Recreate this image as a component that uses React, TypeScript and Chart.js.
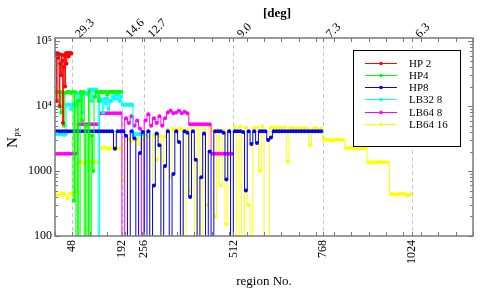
import React, { useEffect, useRef } from 'react';
import { Chart, registerables } from 'chart.js';

Chart.register(...registerables);

// ---------- axis data ----------
const regionTicks = [48, 192, 256, 512, 768, 1024];
const degLabels = ['29.3', '14.6', '12.7', '9.0', '7.3', '6.3'];
const yTickValues = [100, 1000, 10000, 100000];
const yTickLabels = ['100', '1000', '10⁴', '10⁵'];
const xMin = 0;
const xMax = 1200;
const yMin = 100;
const yMax = 112000;
const xMinorStep = 50;

// ---------- series ----------
const seriesNames = ['HP 2', 'HP4', 'HP8', 'LB32 8', 'LB64 8', 'LB64 16'];
const seriesColors = ['#ff0000', '#00ff00', '#0000ff', '#00ffff', '#ff00ff', '#ffff00'];

// HP 2: regions sampled every 2 starting at 1
const hp2Start = 1;
const hp2Step = 2;
const hp2Values = [
  60000, 66000, 12000, 65000, 55000, 64000, 10000, 45000, 30000, 62000, 50000, 5500,
  40000, 60000, 20000, 65000, 45000, 66000, 65000, 58000, 65000, 66000, 64000, 65000,
];

// HP4: every 4 starting at 2
const hp4Start = 2;
const hp4Step = 4;
const hp4Values = [
  16500, 16500, 16500, 16500, 8000, 16500, 5000, 16000, 16500, 16500, 16500, 16000,
  16500, 350, 16500, 10, 12000, 10, 16500, 6000, 16500, 10, 5000, 10,
  16500, 10, 3500, 1000, 14000, 16500, 16500, 12000, 16500, 16500, 16500, 16500,
  16500, 15000, 16500, 16500, 16500, 16500, 16500, 16500, 16500, 16500, 16500, 16500,
];

// HP8: every 8 starting at 4
const hp8Start = 4;
const hp8Step = 8;
const hp8Values = [
  4100, 4100, 4100, 4100, 4100, 4100, 4100, 4100, 4100, 4100, 4100, 4100,
  4100, 4100, 4100, 4100, 4100, 4100, 4100, 4100, 4100, 2200, 4100, 4100,
  4100, 3500, 10, 4100, 3200, 10, 1900, 4000, 10, 4100, 10, 600,
  3800, 2500, 10, 1200, 4100, 10, 900, 4100, 2800, 10, 4100, 3900,
  400, 4100, 1500, 10, 800, 3800, 10, 2000, 10, 4100, 4100, 4100,
  3900, 740, 4100, 10, 4100, 4100, 4100, 4000, 500, 4100, 2600, 4100,
  2700, 4100, 4100, 4100, 3000, 3300, 4100, 4100, 4100, 4100, 4100, 4100,
  4100, 4100, 4100, 4100, 4100, 4100, 4100, 4100, 4100, 4100, 4100, 4100,
];

// LB32 8: every 4 starting at 2
const lb32Start = 2;
const lb32Step = 4;
const lb32Values = [
  3700, 3700, 3700, 3700, 3700, 3700, 3600, 3700,
  10500, 10500, 10500, 9000, 10500, 10500, 10000, 10500,
  15700, 12000, 15700, 8000, 15700, 16000, 15700, 15000,
  18000, 18000, 12000, 18000, 17500, 18000, 14000, 10,
  13000, 12000, 8000, 13000, 11000, 13000, 9000, 12000,
  12000, 14000, 13000, 15000, 13000, 15000, 12000, 14000,
  10500, 10500, 10500, 10500, 10500, 10500, 10500, 10500,
  3700, 3700, 3700, 3700, 3700, 3700, 3700, 3700,
];

// LB64 8: every 8 starting at 4
const lb64aStart = 4;
const lb64aStep = 8;
const lb64aValues = [
  1850, 1850, 1850, 1850, 1850, 1850, 1850, 1850,
  5250, 5250, 5250, 5250, 5250, 5250, 5250, 5250,
  7800, 7800, 7800, 7800, 7800, 7800, 7800, 7800,
  10, 6500, 5500, 7000, 5000, 6000, 4500, 10,
  6000, 7500, 5000, 6500, 5500, 7000, 5000, 6500,
  8000, 8500, 7800, 8000, 8500, 7800, 8200, 7800,
  5250, 5250, 5250, 5250, 5250, 5250, 5250, 5250,
  1850, 1850, 1850, 1850, 1850, 1850, 1850, 1850,
];

// LB64 16: every 8 starting at 4
const lb64bStart = 4;
const lb64bStep = 8;
const lb64bValues = [
  440, 420, 460, 440, 380, 450, 440, 470,
  1370, 1370, 1300, 1370, 1400, 1370, 1350, 1370,
  2250, 2300, 2250, 2200, 2250, 2300, 2250, 2250,
  700, 3000, 3100, 2900, 3000, 3100, 2600, 3000,
  3500, 3400, 10, 3600, 1500, 3500, 10, 3400,
  4400, 800, 4400, 4300, 4500, 4400, 10, 4400,
  500, 5200, 10, 5300, 10, 5200, 300, 5000,
  4200, 200, 4300, 600, 4200, 150, 4200, 10,
  4700, 10, 4800, 10, 4700, 300, 10, 4700,
  4700, 1000, 4800, 10, 10, 4700, 4600, 4700,
  4600, 4600, 4700, 1400, 4600, 4600, 4500, 4600,
  4500, 4600, 4500, 2500, 4500, 4600, 4400, 4500,
  3000, 3050, 3000, 2950, 3000, 3050, 3000, 3000,
  2250, 2250, 2300, 2250, 2200, 2250, 2250, 2250,
  1370, 1370, 1350, 1370, 1400, 1370, 1370, 1350,
  440, 440, 430, 440, 450, 440, 420, 440,
];

const seriesStarts = [hp2Start, hp4Start, hp8Start, lb32Start, lb64aStart, lb64bStart];
const seriesSteps = [hp2Step, hp4Step, hp8Step, lb32Step, lb64aStep, lb64bStep];
const seriesValues = [hp2Values, hp4Values, hp8Values, lb32Values, lb64aValues, lb64bValues];

const FONT = "'Liberation Serif', 'Times New Roman', Times, serif";

const decorPlugin = {
  id: 'decor',
  beforeDatasetsDraw(chart: any) {
    const { ctx, chartArea: a, scales } = chart;
    const xs = scales.x;
    ctx.save();
    ctx.strokeStyle = '#c8c8c8';
    ctx.lineWidth = 1;
    ctx.setLineDash([4, 3]);
    for (const v of regionTicks) {
      const px = Math.round(xs.getPixelForValue(v)) + 0.5;
      ctx.beginPath();
      ctx.moveTo(px, a.top);
      ctx.lineTo(px, a.bottom);
      ctx.stroke();
    }
    ctx.restore();
  },
  afterDraw(chart: any) {
    const { ctx, chartArea: a, scales } = chart;
    const xs = scales.x;
    const ys = scales.y;
    ctx.save();
    ctx.setLineDash([]);
    ctx.strokeStyle = '#7a7a7a';
    ctx.lineWidth = 1;
    // x ticks (inward, top and bottom)
    const xtv: number[] = [];
    for (let v = xMin; v <= xMax; v += xMinorStep) xtv.push(v);
    for (const v of regionTicks) xtv.push(v);
    for (const v of xtv) {
      const px = Math.round(xs.getPixelForValue(v)) + 0.5;
      ctx.beginPath();
      ctx.moveTo(px, a.bottom);
      ctx.lineTo(px, a.bottom - 4);
      ctx.moveTo(px, a.top);
      ctx.lineTo(px, a.top + 4);
      ctx.stroke();
    }
    // y ticks (inward, left and right)
    for (let d = 100; d <= 100000; d *= 10) {
      for (let m = 1; m <= 9; m++) {
        const v = d * m;
        if (v < yMin || v > yMax) continue;
        const py = Math.round(ys.getPixelForValue(v)) + 0.5;
        const len = m === 1 ? 5 : 3;
        ctx.beginPath();
        ctx.moveTo(a.left, py);
        ctx.lineTo(a.left + len, py);
        ctx.moveTo(a.right, py);
        ctx.lineTo(a.right - len, py);
        ctx.stroke();
      }
    }
    // frame
    ctx.lineWidth = 1.5;
    ctx.strokeRect(a.left, a.top, a.right - a.left, a.bottom - a.top);

    // y title N_px
    ctx.fillStyle = '#000';
    ctx.save();
    ctx.translate(17, 148);
    ctx.rotate(-Math.PI / 2);
    ctx.font = `15px ${FONT}`;
    ctx.textBaseline = 'alphabetic';
    ctx.textAlign = 'left';
    ctx.fillText('N', 0, 0);
    const nw = ctx.measureText('N').width;
    ctx.font = `9px ${FONT}`;
    ctx.fillText('px', nw + 0.5, 2);
    ctx.restore();

    // top title
    ctx.font = `bold 13px ${FONT}`;
    ctx.textAlign = 'center';
    ctx.textBaseline = 'middle';
    ctx.fillText('[deg]', 277, 14);

    // legend
    const lx = 353.5, ly = 50.5, lw = 107, lh = 96;
    ctx.fillStyle = '#fff';
    ctx.fillRect(lx, ly, lw, lh);
    ctx.strokeStyle = '#000';
    ctx.lineWidth = 1;
    ctx.strokeRect(lx, ly, lw, lh);
    ctx.font = `11px ${FONT}`;
    ctx.textAlign = 'left';
    ctx.textBaseline = 'middle';
    chart.data.datasets.forEach((ds: any, i: number) => {
      const y = Math.round(62.5 + i * 12.3) + 0.5;
      ctx.strokeStyle = ds.borderColor;
      ctx.lineWidth = 1;
      ctx.beginPath();
      ctx.moveTo(365, y);
      ctx.lineTo(397, y);
      ctx.stroke();
      ctx.fillStyle = ds.borderColor;
      ctx.beginPath();
      ctx.arc(381, y, 1.8, 0, Math.PI * 2);
      ctx.fill();
      ctx.fillStyle = '#000';
      ctx.fillText(ds.label, 409, y + 0.5);
    });
    ctx.restore();
  },
};

export default function App() {
  const ref = useRef<HTMLCanvasElement>(null);
  useEffect(() => {
    const datasets = seriesNames.map((name, k) => ({
      label: name,
      data: seriesValues[k].map((v, i) => ({ x: seriesStarts[k] + i * seriesSteps[k], y: v })),
      borderColor: seriesColors[k],
      backgroundColor: seriesColors[k],
      pointBackgroundColor: seriesColors[k],
      pointBorderWidth: 0,
      pointRadius: 2,
      borderWidth: 1,
      stepped: 'middle',
      clip: 0,
      xAxisID: 'x',
      yAxisID: 'y',
    }));
    const tickFont = { family: FONT, size: 12 };
    const chart = new Chart(ref.current as HTMLCanvasElement, {
      type: 'line',
      data: { datasets },
      options: {
        animation: false,
        responsive: false,
        devicePixelRatio: 1,
        layout: { padding: { left: 0, right: 8, top: 0, bottom: 0 } },
        plugins: { legend: { display: false }, tooltip: { enabled: false } },
        scales: {
          x: {
            type: 'linear',
            position: 'bottom',
            min: xMin,
            max: xMax,
            afterFit: (s: any) => { s.height = 61; },
            afterBuildTicks: (s: any) => { s.ticks = regionTicks.map((v) => ({ value: v })); },
            ticks: {
              autoSkip: false,
              minRotation: 90,
              maxRotation: 90,
              padding: 4,
              color: '#000',
              font: tickFont,
              callback: (v: any) => String(v),
            },
            grid: { display: false, drawTicks: false },
            border: { display: false },
            title: {
              display: true,
              text: 'region No.',
              color: '#000',
              font: { family: FONT, size: 13 },
              padding: { top: 0, bottom: 8 },
            },
          },
          x2: {
            type: 'linear',
            position: 'top',
            min: xMin,
            max: xMax,
            afterFit: (s: any) => { s.height = 38; },
            afterBuildTicks: (s: any) => { s.ticks = regionTicks.map((v) => ({ value: v })); },
            ticks: {
              autoSkip: false,
              minRotation: 45,
              maxRotation: 45,
              padding: -3,
              labelOffset: 16,
              color: '#000',
              font: tickFont,
              callback: (v: any) => degLabels[regionTicks.indexOf(v)] ?? '',
            },
            grid: { display: false, drawTicks: false },
            border: { display: false },
          },
          y: {
            type: 'logarithmic',
            position: 'left',
            min: yMin,
            max: yMax,
            afterFit: (s: any) => { s.width = 55; },
            afterBuildTicks: (s: any) => { s.ticks = yTickValues.map((v) => ({ value: v })); },
            ticks: {
              autoSkip: false,
              padding: 3,
              color: '#000',
              font: tickFont,
              callback: (v: any) => yTickLabels[yTickValues.indexOf(v)] ?? '',
            },
            grid: { display: false, drawTicks: false },
            border: { display: false },
          },
        },
      },
      plugins: [decorPlugin],
    } as any);
    return () => chart.destroy();
  }, []);
  return (
    <div style={{ position: 'fixed', left: 0, top: 0, width: 481, height: 297, background: '#fff' }}>
      <canvas ref={ref} width={481} height={297} style={{ display: 'block', width: 481, height: 297 }} />
    </div>
  );
}
